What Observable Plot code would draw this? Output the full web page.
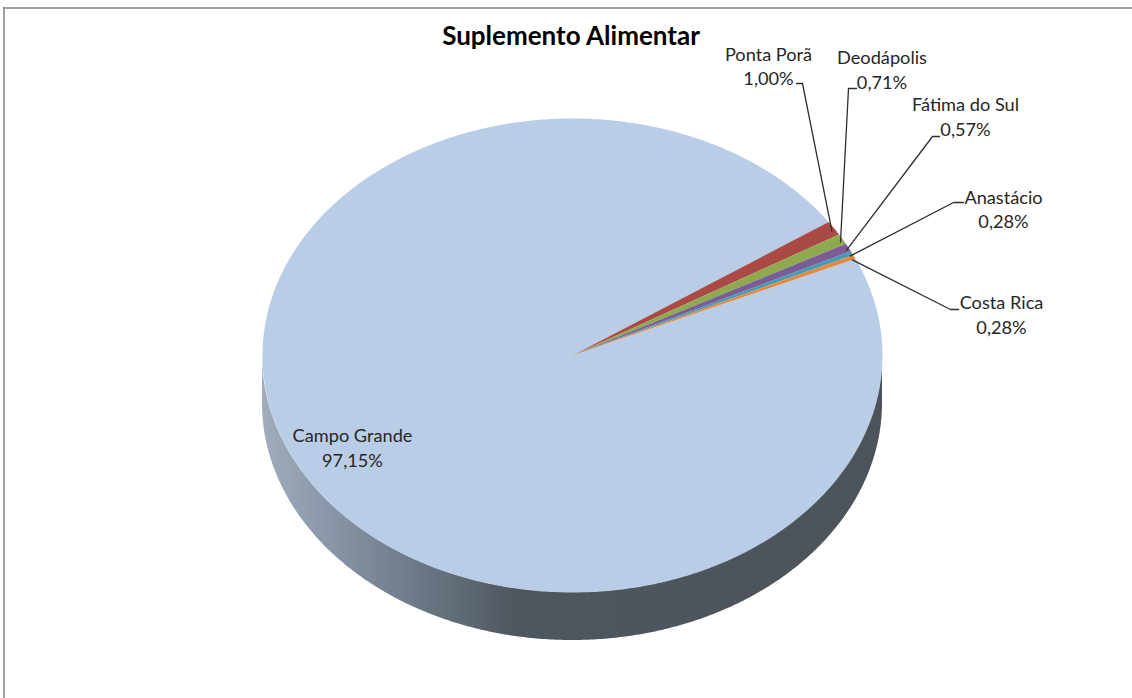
<!DOCTYPE html>
<html>
<head>
<meta charset="utf-8">
<script src="https://cdn.jsdelivr.net/npm/d3@7"></script>
<script src="https://cdn.jsdelivr.net/npm/@observablehq/plot@0.6"></script>
<style>
html,body{margin:0;padding:0;background:#fff}
svg{display:block}
</style>
</head>
<body>
<div id="chart"></div>
<script>
// Data
const names = ["Ponta Porã","Deodápolis","Fátima do Sul","Anastácio","Costa Rica","Campo Grande"];
const shares = [1.00,0.71,0.57,0.28,0.28,97.15];
const shareLabels = ["1,00%","0,71%","0,57%","0,28%","0,28%","97,15%"];
const colors = ["#A94A46","#8FA94F","#7A5C96","#459BB3","#E3883F","#BACDE6"];
const chartTitle = "Suplemento Alimentar";

// Layout (pixel space of the 1132×698 frame)
const W = 1132, H = 698;
const pie3d = {cx:572, cy:355, rx:310, ry:237, depth:48, startDeg:55.7};
const labelX = [768,881.5,965,1003,1001,352];
const labelY = [64.5,68,115,207.5,313,446];
const elbow = [[802,83],[848,88],[932,136],[953,202],[950,309],null];
const leaderEnd = [[796,83],[856,88],[939,136],[963,202],[958,309],null];

const ex = a => pie3d.cx + pie3d.rx*Math.sin(a);
const ey = a => pie3d.cy - pie3d.ry*Math.cos(a);

const start = pie3d.startDeg*Math.PI/180;
const arcs = d3.pie().sort(null).startAngle(start).endAngle(start+2*Math.PI)(shares);

// Slice outlines derived from the values; the large slice is drawn first
const slicePts = [];
[5,0,1,2,3,4].forEach(i=>{
  const arc = arcs[i];
  const n = Math.max(2,Math.ceil((arc.endAngle-arc.startAngle)/0.01));
  slicePts.push({name:names[i],x:pie3d.cx,y:pie3d.cy});
  for(let k=0;k<=n;k++){
    const a = arc.startAngle+(arc.endAngle-arc.startAngle)*k/n;
    slicePts.push({name:names[i],x:ex(a),y:ey(a)});
  }
});

// Side wall of the disc: lower half of the ellipse
const wallPts = d3.range(0,361).map(k=>{
  const a = Math.PI/2+Math.PI*k/360;
  return {x:ex(a),y1:ey(a),y2:ey(a)+pie3d.depth};
});

// Leader lines
const leaderPts = [];
arcs.forEach((arc,i)=>{
  if(!elbow[i]) return;
  const m = (arc.startAngle+arc.endAngle)/2;
  leaderPts.push({k:i,x:ex(m)-2,y:ey(m)+3});
  leaderPts.push({k:i,x:elbow[i][0],y:elbow[i][1]});
  leaderPts.push({k:i,x:leaderEnd[i][0],y:leaderEnd[i][1]});
});

const labels = names.map((n,i)=>({text:n+"\n"+shareLabels[i],x:labelX[i],y:labelY[i]}));

const defs = () => {
  const s = d3.create("svg:defs");
  const g = s.append("linearGradient").attr("id","wallGrad").attr("x1",0).attr("x2",1).attr("y1",0).attr("y2",0);
  [[0,"#9fadbc"],[0.1,"#8a98a9"],[0.22,"#727f8e"],[0.33,"#5d6873"],[0.41,"#4e565e"],[1,"#4c535b"]]
    .forEach(([o,c])=>g.append("stop").attr("offset",o).attr("stop-color",c));
  return s.node();
};

const chart = Plot.plot({
  width:W, height:H,
  margin:0,
  style:{background:"#fff",fontFamily:"Lato, 'Noto Sans', sans-serif"},
  x:{domain:[0,W],range:[0,W],axis:null},
  y:{domain:[0,H],range:[0,H],axis:null},
  color:{domain:names,range:colors},
  marks:[
    defs,
    Plot.ruleX([3.5],{y1:7,y2:H,stroke:"#868686",strokeWidth:1.5}),
    Plot.ruleY([7.5],{x1:3,x2:W,stroke:"#868686",strokeWidth:1.5}),
    Plot.areaY(wallPts,{x:"x",y1:"y1",y2:"y2",fill:"url(#wallGrad)"}),
    Plot.line(slicePts,{x:"x",y:"y",z:"name",fill:"name",stroke:"none",curve:"linear"}),
    Plot.line(leaderPts,{x:"x",y:"y",z:"k",stroke:"#2e2e2e",strokeWidth:1.3,curve:"linear"}),
    Plot.text(labels,{x:"x",y:"y",text:"text",fontSize:18.2,lineHeight:1.35,fill:"#262626",textAnchor:"middle"}),
    Plot.text([chartTitle],{x:[570.5],y:[36],fontSize:26,fontWeight:"bold",fill:"#000",textAnchor:"middle"})
  ]
});
document.getElementById("chart").append(chart);
</script>
</body>
</html>
